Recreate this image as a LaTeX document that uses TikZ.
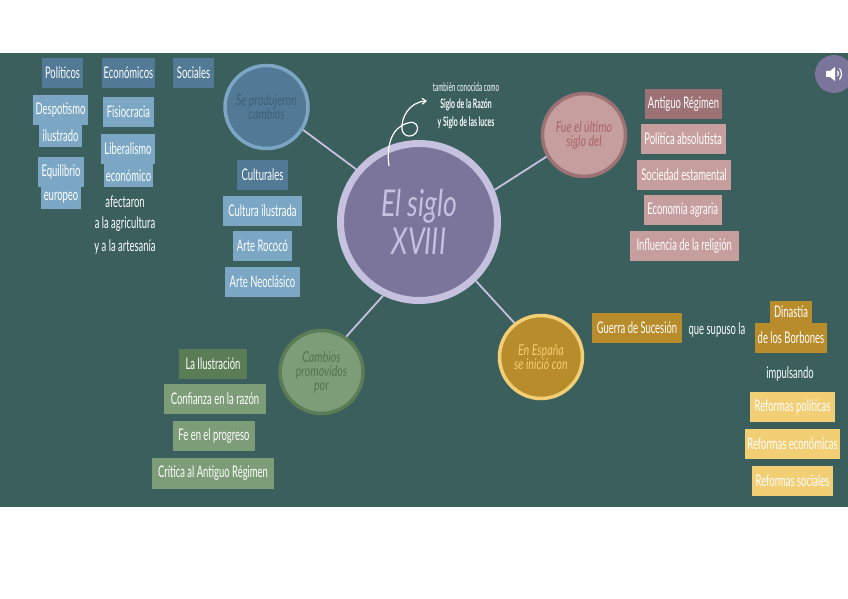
\documentclass[tikz,border=0pt]{standalone}
\usepackage{fontspec}
\setmainfont{Lato}
\newfontfamily\hand[FakeStretch=0.59]{Lato}
\newfontfamily\handsmall[FakeStretch=0.53]{Lato}
\newfontfamily\circfont[FakeStretch=0.71]{Lato}
\newfontfamily\mainfontc[FakeStretch=0.72]{Lato}
\usetikzlibrary{arrows.meta}
\definecolor{bgc}{HTML}{3A5F5C}
\definecolor{blueD}{HTML}{527A96}
\definecolor{blueL}{HTML}{7BA7C4}
\definecolor{blueT}{HTML}{3E6075}
\definecolor{roseD}{HTML}{9C7275}
\definecolor{roseL}{HTML}{C79E9E}
\definecolor{roseT}{HTML}{A86464}
\definecolor{greenD}{HTML}{5A7D55}
\definecolor{greenL}{HTML}{7D9C78}
\definecolor{greenT}{HTML}{54744F}
\definecolor{goldD}{HTML}{B88C2A}
\definecolor{goldL}{HTML}{F2CE75}
\definecolor{purp}{HTML}{7B749B}
\definecolor{lilac}{HTML}{C5C1DE}
\tikzset{
  boxbase/.style={inner sep=0pt,outer sep=0pt,text=white,font=\hand\fontsize{16}{18}\selectfont,anchor=center},
  label/.style={inner sep=0pt,text=white,align=center,font=\hand\fontsize{16}{18}\selectfont},
  small/.style={inner sep=0pt,text=white,align=center,font=\handsmall\fontsize{12}{14}\selectfont},
  smallb/.style={inner sep=0pt,text=white,align=center,font=\handsmall\bfseries\fontsize{13}{15}\selectfont},
  topic/.style={circle,inner sep=0pt,minimum size=83pt,line width=3.5pt,align=center,font=\circfont\itshape\fontsize{15}{14}\selectfont},
  link/.style={draw=lilac,line width=1.8pt}
}
\newcommand{\bx}[7]{%
  \pgfmathsetmacro{\bxw}{#5-#3}\pgfmathsetmacro{\bxh}{#6-#4}%
  \pgfmathsetmacro{\bxx}{(#5+#3)/2}\pgfmathsetmacro{\bxy}{(#6+#4)/2}%
  \node[boxbase,fill=#2,minimum width=\bxw pt,minimum height=\bxh pt] (#1) at (\bxx,\bxy) {#7};}
\begin{document}
\begin{tikzpicture}[x=1pt,y=-1pt]
\useasboundingbox (0,0) rectangle (848,599);
\fill[white] (0,0) rectangle (848,599);
\fill[bgc] (0,53) rectangle (848,507);
% circles
\node[circle,fill=purp,draw=lilac,line width=7pt,minimum size=157pt,inner sep=0pt,text=lilac,align=center,font=\mainfontc\itshape\fontsize{37}{38}\selectfont] (main) at (419,222) {El siglo\\XVIII};
\node[topic,fill=blueD,draw=blueL,text=blueT] (cambios) at (266.5,107) {Se produjeron\\cambios};
\node[topic,fill=roseL,draw=roseD,text=roseT] (ultimo) at (584,135) {Fue el último\\siglo del};
\node[topic,fill=greenL,draw=greenD,text=greenT] (promov) at (321.5,372) {Cambios\\promovidos\\por};
\node[topic,fill=goldD,draw=goldL,text=goldL] (espana) at (541,357) {En España\\se inició con};
% connectors
\draw[link] (main.140) -- (cambios.-32);
\draw[link] (main.23) -- (ultimo.210);
\draw[link] (main.244) -- (promov.55);
\draw[link] (main.-46) -- (espana.128);
% blue
\bx{pol}{blueD}{42}{58}{83}{88}{Políticos}
\bx{eco}{blueD}{102}{58}{155}{88}{Económicos}
\bx{soc}{blueD}{173}{58}{214}{88}{Sociales}
\bx{des}{blueL}{33}{95}{88}{125}{Despotismo}
\bx{ilu}{blueL}{39}{125}{82}{147}{ilustrado}
\bx{equ}{blueL}{38}{157}{84}{187}{Equilibrio}
\bx{eur}{blueL}{41}{187}{81}{209}{europeo}
\bx{fis}{blueL}{103}{97}{154}{127}{Fisiocracia}
\bx{lib}{blueL}{101}{134}{155}{164}{Liberalismo}
\bx{ecn}{blueL}{104}{164}{153}{187}{económico}
\node[label] (afe) at (125,202) {afectaron};
\node[label] (agr) at (125,224) {a la agricultura};
\node[label] (art) at (125,247) {y a la artesanía};
\bx{cul}{blueD}{237}{160}{288}{190}{Culturales}
\bx{cui}{blueL}{223}{196}{302}{226}{Cultura ilustrada}
\bx{roc}{blueL}{233}{231}{292}{261}{Arte Rococó}
\bx{neo}{blueL}{225}{267}{300}{297}{Arte Neoclásico}
% rose
\bx{ant}{roseD}{645}{89}{722}{119}{Antiguo Régimen}
\bx{abs}{roseL}{640.5}{124}{726}{154}{Política absolutista}
\bx{est}{roseL}{637}{160}{731}{190}{Sociedad estamental}
\bx{agra}{roseL}{643.5}{195}{722}{225}{Economía agraria}
\bx{rel}{roseL}{629.5}{231}{739}{261}{Influencia de la religión}
% green
\bx{ilus}{greenD}{179}{349}{247}{379}{La Ilustración}
\bx{raz}{greenL}{164}{384}{266}{414}{Confianza en la razón}
\bx{fe}{greenL}{173}{421}{255}{451}{Fe en el progreso}
\bx{cri}{greenL}{152}{458}{274}{489}{Crítica al Antiguo Régimen}
% gold
\bx{gue}{goldD}{592}{313}{682}{343}{Guerra de Sucesión}
\node[label] (sup) at (717,330) {que supuso la};
\bx{din}{goldD}{770}{301}{812}{323}{Dinastía}
\bx{bor}{goldD}{755}{323}{827}{353}{de los Borbones}
\node[label] (imp) at (790,374) {impulsando};
\bx{rpo}{goldL}{750}{392}{835}{422}{Reformas políticas}
\bx{rec}{goldL}{745}{429}{840}{459}{Reformas económicas}
\bx{rso}{goldL}{752}{466}{833}{496}{Reformas sociales}
% annotation
\node[small] (tam) at (466,87) {también conocida como};
\node[smallb] (raz2) at (466,105) {Siglo de la Razón};
\node[smallb] (luc) at (466,123) {y Siglo de las luces};
\coordinate (arrS) at (389,166);
\coordinate (arrE) at (427,101);
\draw[white,line width=1.2pt,-{Straight Barb[length=4pt,width=6pt]}] (arrS) .. controls (386,145) and (392,127) .. (408,123)
  .. controls (416,120) and (419,127) .. (417,131)
  .. controls (414,138) and (403,138) .. (402,129)
  .. controls (401,118) and (409,102) .. (arrE);
% sound button
\begin{scope}
\clip (0,0) rectangle (848,599);
\node[circle,fill=purp,minimum size=38pt,inner sep=0pt] (snd) at (834,74) {};
\fill[white] (826,71) -- (830,71) -- (835,67) -- (835,81) -- (830,77) -- (826,77) -- cycle;
\draw[white,line width=1.2pt] (837.5,71) arc (-40:40:4);
\draw[white,line width=1.2pt] (839.5,68.5) arc (-40:40:8.5);
\end{scope}
\end{tikzpicture}
\end{document}
